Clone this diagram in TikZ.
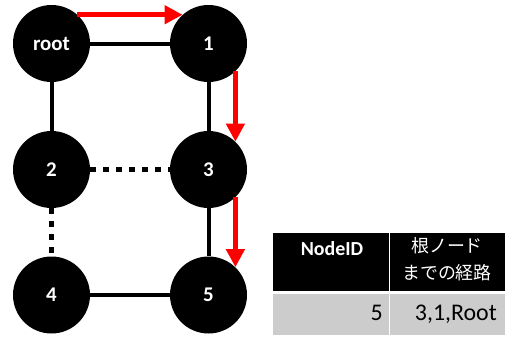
\documentclass[tikz,border=0pt]{standalone}
\usepackage{fontspec}
\setmainfont{Carlito}
\newfontfamily\jpfont{Noto Sans CJK JP}
\usetikzlibrary{arrows.meta}
\definecolor{cellgray}{RGB}{204,204,204}

\begin{document}
\begin{tikzpicture}[x=10bp,y=-10bp,
  vtx/.style={circle,fill=black,minimum size=77bp,inner sep=0pt,text=white,font=\fontsize{21}{21}\selectfont\bfseries},
  link/.style={line width=4bp},
  dots/.style={line width=5bp,dash pattern=on 6bp off 7bp},
  route/.style={draw=red,line width=5bp,-{Triangle[length=18bp,width=18bp]}}]
\useasboundingbox (0,0) rectangle (50.5,33.8);
\node[vtx] (root) at (5.15,4.35) {root};
\node[vtx] (n1) at (20.85,4.35) {1};
\node[vtx] (n2) at (5.15,16.95) {2};
\node[vtx] (n3) at (20.85,16.95) {3};
\node[vtx] (n4) at (5.15,29.5) {4};
\node[vtx] (n5) at (20.85,29.5) {5};
\draw[link] (root)--(n1);
\draw[link] (root)--(n2);
\draw[link] (n1)--(n3);
\draw[link] (n3)--(n5);
\draw[link] (n4)--(n5);
\draw[dots] (n2)--(n3);
\draw[dots] (n2)--(n4);
\draw[route] (root.48)--(n1.132);
\draw[route] (n1.-46)--(n3.46);
\draw[route] (n3.-46)--(n5.46);
\fill (27.3,23.3) rectangle (50.5,29.1);
\fill[cellgray] (27.3,29.4) rectangle (50.5,33.5);
\draw[white,line width=1bp] (38.9,23.3)--(38.9,33.5);
\node[anchor=base,inner sep=0pt,text=white,font=\fontsize{20}{20}\selectfont\bfseries] (hid) at (33.2,25.5) {NodeID};
\node[anchor=base,inner sep=0pt,text=white,align=center,font=\jpfont\fontsize{18}{27}\selectfont] (hpath) at (44.7,27.9) {根ノード\\までの経路};
\node[anchor=base east,inner sep=0pt,font=\fontsize{24}{24}\selectfont] (cid) at (38.3,32.0) {5};
\node[anchor=base east,inner sep=0pt,font=\fontsize{24}{24}\selectfont] (cpath) at (49.7,32.0) {3,1,Root};
\end{tikzpicture}
\end{document}
